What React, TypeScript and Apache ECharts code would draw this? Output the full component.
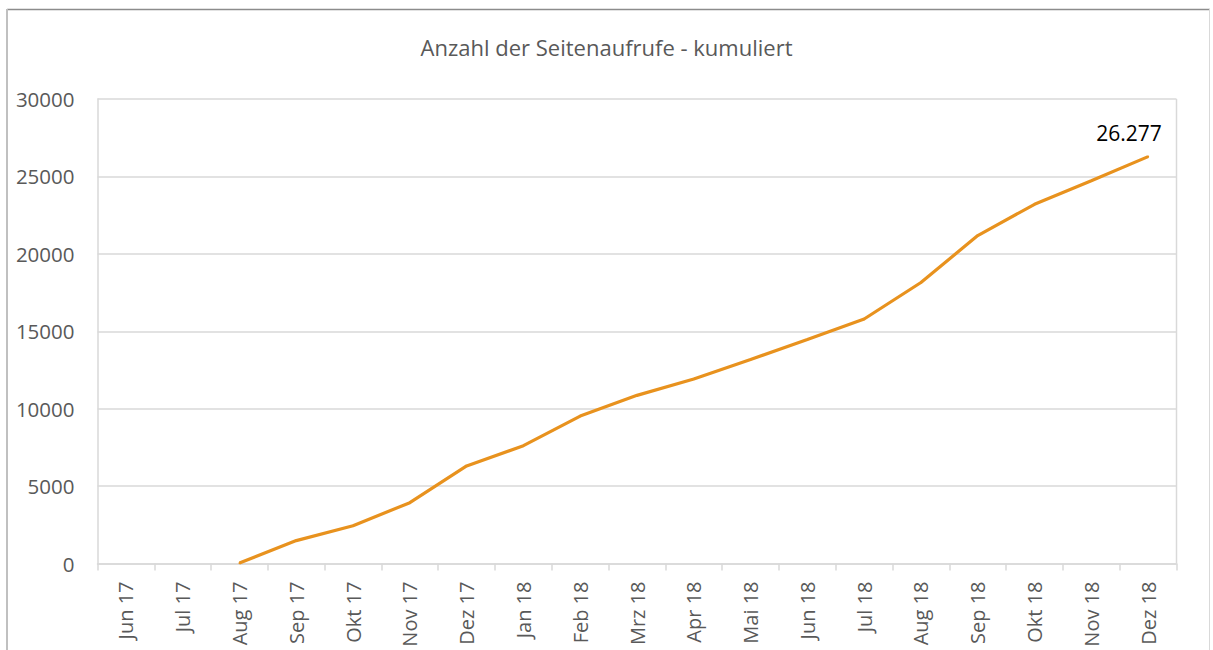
import React, { useEffect, useRef } from "react";
import * as echarts from "echarts";

const categories = [
  "Jun 17", "Jul 17", "Aug 17", "Sep 17", "Okt 17", "Nov 17", "Dez 17",
  "Jan 18", "Feb 18", "Mrz 18", "Apr 18", "Mai 18", "Jun 18", "Jul 18",
  "Aug 18", "Sep 18", "Okt 18", "Nov 18", "Dez 18",
];
const values: (number | null)[] = [
  null, null, 30, 1480, 2440, 3930, 6300, 7610, 9520, 10860, 11920, 13180,
  14460, 15790, 18150, 21180, 23200, 24720, 26277,
];
const yTicks = [0, 5000, 10000, 15000, 20000, 25000, 30000];
const title = "Anzahl der Seitenaufrufe - kumuliert";
const lastLabel = "26.277";

const FONT = "'Open Sans', 'Noto Sans', sans-serif";
const ORANGE = "#e8921e";

export default function App() {
  const ref = useRef<HTMLDivElement>(null);
  useEffect(() => {
    if (!ref.current) return;
    const chart = echarts.init(ref.current, null, { renderer: "svg" });
    const last = values.length - 1;
    chart.setOption({
      animation: false,
      backgroundColor: "#ffffff",
      textStyle: { fontFamily: FONT },
      title: {
        text: title,
        left: "center",
        top: 31,
        textStyle: { fontFamily: FONT, fontSize: 22, fontWeight: "normal", color: "#595959" },
      },
      graphic: [
        { type: "line", shape: { x1: 7, y1: 9.5, x2: 1210, y2: 9.5 }, style: { stroke: "#8c8c8c", lineWidth: 1.5 } },
        { type: "line", shape: { x1: 7, y1: 9, x2: 7, y2: 650 }, style: { stroke: "#c0c0c0", lineWidth: 2 } },
        { type: "line", shape: { x1: 1209.5, y1: 9, x2: 1209.5, y2: 650 }, style: { stroke: "#d9d9d9", lineWidth: 1 } },
        { type: "line", shape: { x1: 1176.5, y1: 99, x2: 1176.5, y2: 563.5 }, style: { stroke: "#d9d9d9", lineWidth: 1.5 } },
      ],
      grid: { left: 97.5, right: 36.5, top: 99, bottom: 86.5, containLabel: false },
      xAxis: {
        type: "category",
        data: categories,
        boundaryGap: true,
        axisLine: { show: true, lineStyle: { color: "#d9d9d9", width: 1.5 } },
        axisTick: { show: true, length: 7, alignWithLabel: false, lineStyle: { color: "#d9d9d9", width: 1.5 } },
        axisLabel: { rotate: 90, margin: 18, interval: 0, fontSize: 20, color: "#595959", fontFamily: FONT },
        splitLine: { show: false },
      },
      yAxis: {
        type: "value",
        min: yTicks[0],
        max: yTicks[yTicks.length - 1],
        interval: 5000,
        axisLine: { show: true, lineStyle: { color: "#d9d9d9", width: 1.5 } },
        axisTick: { show: false },
        axisLabel: {
          margin: 23,
          fontSize: 20.5,
          color: "#595959",
          fontFamily: FONT,
          formatter: (v: number) => String(v),
        },
        splitLine: { lineStyle: { color: "#d9d9d9", width: 1.5 } },
      },
      series: [
        {
          type: "line",
          data: values.map((v, i) =>
            i === last
              ? {
                  value: v,
                  label: {
                    show: true,
                    position: "top",
                    offset: [-19, -7],
                    formatter: lastLabel,
                    fontSize: 21,
                    color: "#000000",
                    fontFamily: FONT,
                  },
                }
              : v
          ),
          showSymbol: true,
          symbol: "circle",
          symbolSize: 2,
          lineStyle: { color: ORANGE, width: 3.2 },
          itemStyle: { color: ORANGE },
        },
      ],
    });
    return () => chart.dispose();
  }, []);
  return (
    <div
      ref={ref}
      style={{ position: "fixed", left: 0, top: 0, width: 1213, height: 650 }}
    />
  );
}
